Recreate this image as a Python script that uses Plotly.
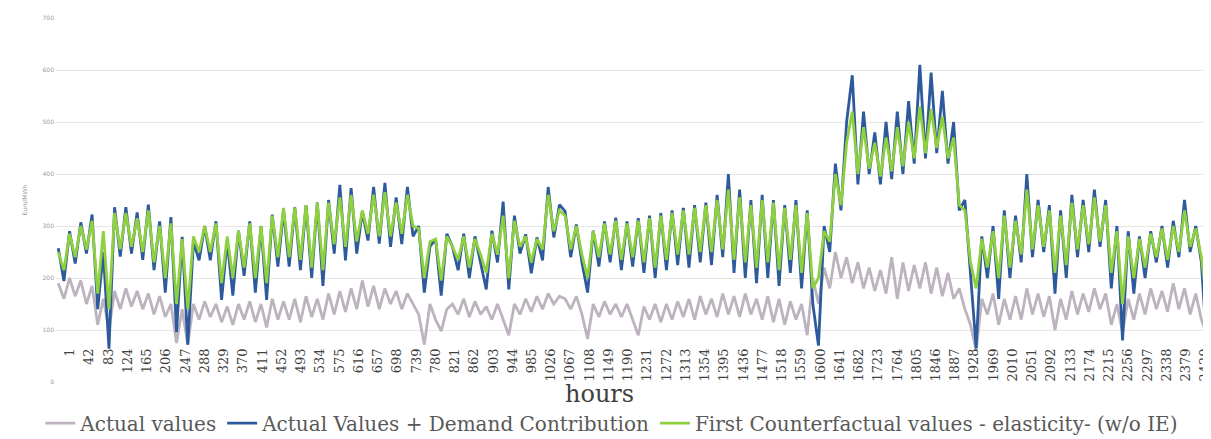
import plotly.graph_objects as go

# sample hours (every 12 h) and the three price series
hours = list(range(-24, 2437, 12))

actual = [
    190, 160, 200, 165, 195, 150, 185, 110, 160, 100,
    175, 140, 180, 145, 175, 140, 170, 130, 165, 125,
    150, 75, 140, 72, 150, 120, 155, 125, 150, 115,
    145, 110, 150, 120, 155, 115, 150, 105, 160, 120,
    155, 120, 160, 115, 165, 125, 160, 120, 170, 130,
    175, 135, 180, 140, 195, 145, 185, 140, 180, 150,
    175, 140, 170, 150, 130, 72, 150, 120, 98, 140,
    150, 130, 160, 125, 155, 130, 145, 120, 150, 120,
    90, 150, 130, 160, 135, 165, 140, 170, 150, 165,
    160, 140, 165, 130, 83, 150, 125, 155, 130, 150,
    125, 150, 120, 90, 145, 120, 150, 115, 150, 120,
    155, 125, 160, 120, 165, 130, 160, 125, 170, 130,
    165, 125, 170, 130, 160, 120, 165, 115, 160, 110,
    155, 120, 150, 90, 200, 150, 220, 180, 250, 200,
    240, 190, 230, 180, 220, 175, 215, 170, 240, 160,
    230, 175, 225, 180, 230, 170, 220, 165, 210, 160,
    180, 140, 110, 60, 160, 130, 170, 110, 160, 120,
    165, 120, 180, 130, 170, 125, 165, 100, 160, 120,
    175, 130, 170, 135, 180, 140, 170, 110, 150, 95,
    160, 120, 170, 130, 180, 140, 175, 135, 190, 140,
    180, 130, 170, 120, 90, 140,
]

demand = [
    257, 194, 290, 228, 307, 247, 322, 140, 250, 64,
    336, 241, 336, 247, 326, 235, 341, 215, 309, 172,
    317, 96, 279, 72, 270, 234, 300, 234, 309, 158,
    272, 166, 291, 204, 309, 172, 300, 158, 322, 222,
    330, 222, 336, 215, 340, 200, 345, 185, 350, 247,
    379, 234, 373, 247, 328, 272, 375, 266, 383, 260,
    355, 265, 375, 280, 300, 172, 260, 275, 166, 285,
    260, 215, 285, 200, 280, 230, 178, 291, 230, 347,
    178, 320, 247, 284, 209, 278, 234, 375, 278, 341,
    328, 240, 303, 230, 172, 291, 222, 309, 230, 316,
    215, 309, 222, 315, 210, 320, 200, 325, 215, 330,
    225, 335, 220, 340, 230, 345, 225, 360, 240, 400,
    210, 370, 200, 350, 190, 360, 200, 350, 185, 340,
    210, 350, 180, 330, 150, 70, 300, 250, 420, 330,
    500, 590, 380, 520, 400, 480, 380, 500, 390, 520,
    400, 540, 420, 610, 430, 595, 440, 560, 420, 500,
    330, 350, 200, 65, 280, 200, 300, 160, 330, 200,
    320, 230, 400, 240, 350, 250, 340, 170, 330, 200,
    360, 240, 350, 250, 370, 260, 350, 180, 300, 80,
    290, 170, 280, 200, 290, 230, 300, 220, 310, 240,
    350, 250, 300, 230, 60, 230,
]

counterfactual = [
    250, 215, 285, 240, 300, 255, 310, 170, 290, 140,
    325, 255, 325, 260, 315, 250, 330, 230, 300, 200,
    305, 150, 275, 140, 280, 250, 300, 250, 305, 190,
    280, 200, 290, 220, 305, 200, 300, 190, 320, 240,
    335, 240, 335, 235, 340, 220, 345, 215, 345, 265,
    355, 260, 360, 270, 330, 285, 360, 280, 365, 280,
    345, 285, 360, 300, 295, 200, 270, 275, 195, 280,
    260, 235, 280, 220, 275, 245, 210, 285, 245, 320,
    200, 310, 260, 280, 230, 275, 255, 360, 290, 330,
    320, 255, 300, 245, 200, 290, 240, 305, 245, 310,
    235, 305, 240, 310, 230, 315, 220, 320, 235, 325,
    245, 330, 245, 335, 250, 340, 250, 350, 255, 370,
    235, 355, 230, 340, 220, 350, 230, 345, 215, 335,
    235, 340, 210, 325, 180, 200, 290, 270, 400, 340,
    460, 520, 400, 490, 410, 460, 395, 470, 405, 490,
    415, 500, 430, 530, 440, 525, 450, 510, 430, 470,
    340, 330, 230, 180, 275, 220, 290, 200, 320, 220,
    310, 245, 370, 255, 340, 260, 330, 210, 320, 225,
    345, 255, 340, 265, 355, 270, 340, 210, 290, 150,
    280, 200, 275, 220, 285, 240, 295, 235, 300, 250,
    330, 260, 295, 240, 150, 235,
]

tick_hours = list(range(1, 2421, 41))
tick_text = [str(h) for h in tick_hours]

series = [
    ("Actual values", actual, "#bdb3bf"),
    ("Actual Values + Demand Contribution", demand, "#2d5a9c"),
    ("First Counterfactual values - elasticity- (w/o IE)", counterfactual, "#8fd03f"),
]

fig = go.Figure()
for name, vals, color in series:
    fig.add_trace(go.Scatter(
        x=hours, y=vals, mode="lines", name=name,
        line=dict(color=color, width=2.8),
    ))

fig.update_layout(
    width=1211, height=439,
    margin=dict(l=47, r=4, t=10, b=58),
    paper_bgcolor="white", plot_bgcolor="white",
    showlegend=True,
    legend=dict(
        orientation="h", x=0.48, xanchor="center", y=-0.113, yanchor="middle",
        font=dict(family="DejaVu Serif", size=20, color="#595959"),
        itemwidth=30, bgcolor="rgba(0,0,0,0)",
    ),
    xaxis=dict(
        range=[-31, 2441], anchor="free", position=0.102,
        tickvals=tick_hours, ticktext=tick_text, tickangle=-90,
        tickfont=dict(family="DejaVu Serif", size=13, color="#404040"),
        showgrid=False, zeroline=False, showline=False, ticks="",
    ),
    yaxis=dict(
        range=[0, 700], dtick=100,
        showgrid=True, gridcolor="#e6e6e6", gridwidth=1,
        zeroline=False, showline=False,
        tickfont=dict(family="DejaVu Sans", size=6, color="#9a9a9a"),
        title=dict(text="Euro/MWh", font=dict(family="DejaVu Sans", size=6, color="#9a9a9a"), standoff=14),
    ),
    annotations=[dict(
        text="hours", x=0.469, y=0.012, xref="paper", yref="paper",
        xanchor="center", yanchor="top", showarrow=False,
        font=dict(family="DejaVu Serif", size=24, color="#404040"),
    )],
)

fig.write_html("out.html")
